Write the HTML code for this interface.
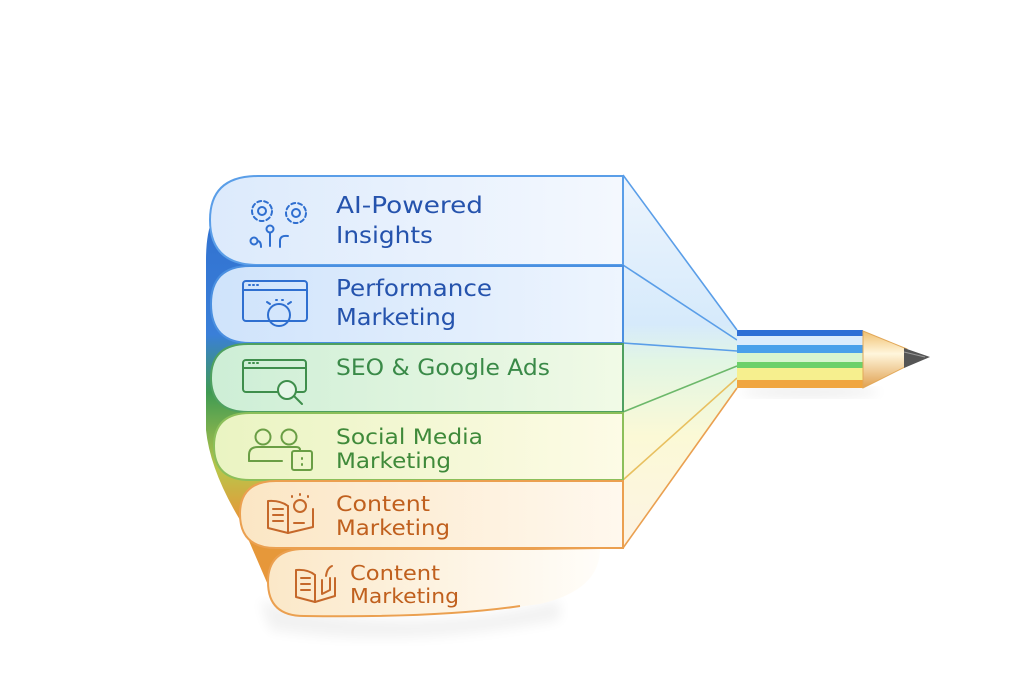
<!DOCTYPE html>
<html><head><meta charset="utf-8"><style>
html,body{margin:0;padding:0;background:#fff;width:1024px;height:683px;overflow:hidden}
text{font-family:"DejaVu Sans","Liberation Sans",sans-serif}
</style></head><body>
<svg width="1024" height="683" viewBox="0 0 1024 683" xmlns="http://www.w3.org/2000/svg">
<defs>
<linearGradient id="spine" x1="0" y1="0" x2="0" y2="1">
<stop offset="0" stop-color="#2f6fcf"/><stop offset="0.35" stop-color="#3a7fd8"/>
<stop offset="0.5" stop-color="#3f9a52"/><stop offset="0.7" stop-color="#b9c54a"/>
<stop offset="0.82" stop-color="#e39a3a"/><stop offset="1" stop-color="#e8963a"/>
</linearGradient>
<linearGradient id="b1" x1="0" y1="0" x2="1" y2="0"><stop offset="0" stop-color="#dceafc"/><stop offset="1" stop-color="#f4f8fe"/></linearGradient>
<linearGradient id="b2" x1="0" y1="0" x2="1" y2="0"><stop offset="0" stop-color="#cfe3fb"/><stop offset="1" stop-color="#eef5fe"/></linearGradient>
<linearGradient id="b3" x1="0" y1="0" x2="1" y2="0"><stop offset="0" stop-color="#cdeed6"/><stop offset="1" stop-color="#f1fae6"/></linearGradient>
<linearGradient id="b4" x1="0" y1="0" x2="1" y2="0"><stop offset="0" stop-color="#eaf4c2"/><stop offset="1" stop-color="#fdfbe6"/></linearGradient>
<linearGradient id="b5" x1="0" y1="0" x2="1" y2="0"><stop offset="0" stop-color="#fbe6c4"/><stop offset="1" stop-color="#fff8ee"/></linearGradient>
<linearGradient id="b6" x1="0" y1="0" x2="1" y2="0"><stop offset="0" stop-color="#fbe8c8"/><stop offset="1" stop-color="#fffdf9"/></linearGradient>
<linearGradient id="fan" x1="0" y1="0" x2="0" y2="1">
<stop offset="0" stop-color="#eef5fd"/><stop offset="0.4" stop-color="#d6eafb"/>
<stop offset="0.5" stop-color="#e2f6e4"/><stop offset="0.7" stop-color="#fbf9d6"/><stop offset="1" stop-color="#fdf3e4"/>
</linearGradient>
<linearGradient id="tip" x1="0" y1="0" x2="0" y2="1">
<stop offset="0" stop-color="#f0c070"/><stop offset="0.4" stop-color="#fff6dc"/><stop offset="1" stop-color="#e0a050"/>
</linearGradient>
<linearGradient id="fade" x1="0" y1="0" x2="1" y2="0"><stop offset="0" stop-color="#eba050"/><stop offset="0.8" stop-color="#eba050"/><stop offset="1" stop-color="#eba050" stop-opacity="0"/></linearGradient>
<filter id="sh" x="-10%" y="-10%" width="120%" height="130%"><feGaussianBlur stdDeviation="6"/></filter>
</defs>

<path d="M260 600 Q400 640 560 600 L560 620 Q400 650 270 630Z" fill="#000" opacity="0.05" filter="url(#sh)"/>

<path d="M230 200 Q206 210 206 260 L206 430 Q210 470 240 520 L268 585 L300 585 L300 200Z" fill="url(#spine)"/>

<path d="M623 175 L737 330 L737 388 L623 548 Z" fill="url(#fan)"/>
<g fill="none" stroke-width="1.6">
<path d="M623 175 L737 330" stroke="#5a9ee8"/>
<path d="M623 265 L737 340" stroke="#5a9ee8"/>
<path d="M623 343 L737 351" stroke="#5a9ee8"/>
<path d="M623 412 L737 366" stroke="#6cb86a"/>
<path d="M623 480 L737 378" stroke="#e8c060"/>
<path d="M623 548 L737 388" stroke="#eaa050"/>
<path d="M623 175 L623 548" stroke="#8fbce8" stroke-width="1.2"/>
</g>

<path d="M258 176 L623 176 L623 265 L258 265 Q210 265 210 220 Q210 176 258 176Z" fill="url(#b1)" stroke="#5a9ee8" stroke-width="2"/>
<path d="M250 266 L623 266 L623 343 L250 343 Q211 343 211 304 Q211 266 250 266Z" fill="url(#b2)" stroke="#4a8fe0" stroke-width="2"/>
<path d="M248 344 L623 344 L623 412 L248 412 Q211 412 211 378 Q211 344 248 344Z" fill="url(#b3)" stroke="#4fa060" stroke-width="2"/>
<path d="M250 413 L623 413 L623 480 L250 480 Q214 480 214 446 Q214 413 250 413Z" fill="url(#b4)" stroke="#8cbf5a" stroke-width="2"/>
<path d="M276 481 L623 481 L623 548 L276 548 Q240 548 240 514 Q240 481 276 481Z" fill="url(#b5)" stroke="#eba050" stroke-width="2"/>
<path d="M304 549 L600 549 Q600 590 540 604 Q440 618 304 616 Q268 616 268 582 Q268 549 304 549Z" fill="url(#b6)"/>
<path d="M600 549 L304 549 Q268 549 268 582 Q268 616 304 616 Q440 618 520 606" fill="none" stroke="url(#fade)" stroke-width="2"/>

<g fill="none" stroke-width="2" stroke-linecap="round" stroke-linejoin="round">
<g stroke="#2f6fd0">
<circle cx="262" cy="211" r="10" stroke-dasharray="4 3"/><circle cx="262" cy="211" r="4"/>
<circle cx="296" cy="213" r="10" stroke-dasharray="4 3"/><circle cx="296" cy="213" r="4"/>
<circle cx="270" cy="229" r="3.5"/><path d="M270 233 V246"/>
<circle cx="254" cy="241" r="3.5"/><path d="M257.5 241 Q261 241 261 247"/>
<path d="M280 247 V241 Q280 235 288 236"/>
<rect x="243" y="281" width="64" height="40" rx="3"/><path d="M243 290 H307"/>
<path d="M249 285 h1 M253 285 h1 M257 285 h1"/>
<circle cx="279" cy="315" r="11"/><path d="M270 304 l-3 -2 M288 304 l3 -2"/>
<path d="M276 300 h1 M282 300 h1"/>
</g>
<g stroke="#3f8e4c">
<rect x="243" y="360" width="63" height="32" rx="3"/><path d="M243 368 H306"/>
<path d="M249 363 h1 M253 363 h1 M257 363 h1"/>
<circle cx="287" cy="390" r="9" fill="#e6f6e8"/><path d="M294 396 L302 404"/>
</g>
<g stroke="#6a9e45">
<circle cx="263" cy="437" r="7.5"/><circle cx="289" cy="437" r="7.5"/>
<path d="M249 461 V455 Q249 447 258 447 H296 Q300 447 300 450"/><path d="M249 461 H282"/>
<rect x="292" y="451" width="20" height="19" rx="2"/><path d="M302 458 v1 M302 464 v1"/>
</g>
<g stroke="#c5682a">
<path d="M268 501 V528 L288 533 V506 Q280 500 268 501Z"/><path d="M288 506 V533 L313 527 V509"/>
<path d="M273 509 h10 M273 515 h10 M273 521 h10 M294 523 h10"/>
<circle cx="300" cy="506" r="6"/><path d="M300 494 v1 M292 496 v1 M308 496 v1"/>
<path d="M296 570 V597 L315 602 V575 Q308 569 296 570Z"/><path d="M315 575 V602 L335 596 V578"/>
<path d="M301 578 h9 M301 584 h9 M301 590 h9"/>
<path d="M322 580 V594 L330 590 V578 M326 576 Q327 568 332 566"/>
</g>
</g>

<g font-size="23">
<text x="336" y="213" fill="#2553ad" textLength="147" lengthAdjust="spacingAndGlyphs">AI-Powered</text>
<text x="336" y="243" fill="#2553ad" textLength="97" lengthAdjust="spacingAndGlyphs">Insights</text>
<text x="336" y="296" fill="#2553ad" textLength="156" lengthAdjust="spacingAndGlyphs">Performance</text>
<text x="336" y="325" fill="#2553ad" textLength="120" lengthAdjust="spacingAndGlyphs">Marketing</text>
<text x="336" y="375" fill="#3a8a48" font-size="22" textLength="214" lengthAdjust="spacingAndGlyphs">SEO &amp; Google Ads</text>
<text x="336" y="444" fill="#3f8a3a" font-size="21" textLength="147" lengthAdjust="spacingAndGlyphs">Social Media</text>
<text x="336" y="468" fill="#3f8a3a" font-size="21" textLength="115" lengthAdjust="spacingAndGlyphs">Marketing</text>
<text x="336" y="511" fill="#c0601e" font-size="21" textLength="94" lengthAdjust="spacingAndGlyphs">Content</text>
<text x="336" y="535" fill="#c0601e" font-size="21" textLength="114" lengthAdjust="spacingAndGlyphs">Marketing</text>
<text x="350" y="580" fill="#c0601e" font-size="20" textLength="90" lengthAdjust="spacingAndGlyphs">Content</text>
<text x="350" y="603" fill="#c0601e" font-size="20" textLength="109" lengthAdjust="spacingAndGlyphs">Marketing</text>
</g>

<ellipse cx="810" cy="392" rx="70" ry="5" fill="#000" opacity="0.08" filter="url(#sh)"/>
<rect x="737" y="330" width="126" height="6" fill="#2f6fd6"/>
<rect x="737" y="336" width="126" height="9" fill="#dcecfc"/>
<rect x="737" y="345" width="126" height="8" fill="#4aa0ea"/>
<rect x="737" y="353" width="126" height="9" fill="#d8f5d0"/>
<rect x="737" y="362" width="126" height="6" fill="#6cd06a"/>
<rect x="737" y="368" width="126" height="12" fill="#f6ef8e"/>
<rect x="737" y="380" width="126" height="8" fill="#f0a640"/>
<path d="M863 331 L907 349 L907 366 L863 388 Z" fill="url(#tip)" stroke="#e2a858" stroke-width="1"/>
<path d="M904 348 L930 357 L904 368 Z" fill="#555"/>
<path d="M904 352 L925 357" stroke="#999" stroke-width="1"/>
</svg>
</body></html>
